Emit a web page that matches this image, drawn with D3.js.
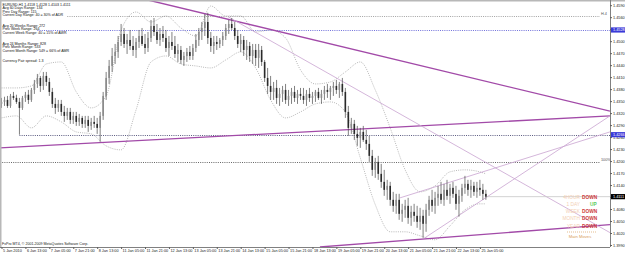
<!DOCTYPE html>
<html><head><meta charset="utf-8">
<script src="https://cdn.jsdelivr.net/npm/d3@7"></script>
<style>html,body{margin:0;padding:0;background:#fff;overflow:hidden}text{font-family:"Liberation Sans","DejaVu Sans",sans-serif}</style>
</head><body><svg id="c" width="625" height="253"></svg>
<script>
// ---------- DATA ----------
const timeLabels = ["5 Jan 2010","6 Jan 13:00","7 Jan 05:00","7 Jan 21:00","8 Jan 13:00","11 Jan 05:00","11 Jan 21:00","12 Jan 13:00","13 Jan 05:00","13 Jan 21:00","14 Jan 13:00","15 Jan 05:00","15 Jan 21:00","18 Jan 13:00","19 Jan 05:00","19 Jan 21:00","20 Jan 13:00","21 Jan 05:00","21 Jan 21:00","22 Jan 13:00","25 Jan 05:00"];
const timeLabelIdx = [0,8,16,24,32,40,48,56,64,72,80,88,96,104,112,120,128,136,144,152,160];

const opens = [1.4343,1.4348,1.4353,1.4338,1.4363,1.4358,1.4348,1.4333,1.4358,1.4366,
1.4353,1.4378,1.4393,1.4408,1.4388,1.4413,1.4398,1.4373,1.4343,1.4333,
1.4343,1.4323,1.4313,1.4323,1.4303,1.4313,1.4298,1.4308,1.4293,1.4303,
1.4288,1.4298,1.4293,1.4283,1.4313,1.4363,1.4408,1.4438,1.4463,1.4473,
1.4498,1.4518,1.4493,1.4503,1.4488,1.4478,1.4498,1.4513,1.4493,1.4483,
1.4508,1.4538,1.4523,1.4503,1.4518,1.4508,1.4483,1.4498,1.4488,1.4468,
1.4478,1.4453,1.4463,1.4473,1.4463,1.4483,1.4503,1.4523,1.4533,1.4548,
1.4508,1.4488,1.4498,1.4493,1.4503,1.4513,1.4533,1.4543,1.4533,1.4513,
1.4493,1.4503,1.4478,1.4488,1.4463,1.4478,1.4458,1.4478,1.4448,1.4408,
1.4388,1.4373,1.4383,1.4358,1.4368,1.4378,1.4353,1.4363,1.4373,1.4358,
1.4368,1.4363,1.4353,1.4368,1.4358,1.4363,1.4373,1.4358,1.4368,1.4378,
1.4373,1.4383,1.4388,1.4378,1.4393,1.4373,1.4323,1.4283,1.4293,1.4268,
1.4258,1.4273,1.4253,1.4243,1.4213,1.4178,1.4198,1.4168,1.4148,1.4128,
1.4138,1.4103,1.4088,1.4103,1.4068,1.4078,1.4088,1.4058,1.4073,1.4063,
1.4048,1.4063,1.4043,1.4078,1.4103,1.4088,1.4108,1.4118,1.4103,1.4128,
1.4113,1.4133,1.4118,1.4093,1.4113,1.4133,1.4143,1.4128,1.4138,1.4123,
1.4133,1.4128,1.4118];
const highs = [1.4358,1.4361,1.4363,1.4368,1.4373,1.4366,1.4358,1.4363,1.4373,1.4378,
1.4383,1.4403,1.4418,1.4413,1.4423,1.4423,1.4408,1.4383,1.4358,1.4353,
1.4353,1.4338,1.4333,1.4333,1.4323,1.4323,1.4318,1.4313,1.4313,1.4313,
1.4308,1.4313,1.4308,1.4323,1.4373,1.4423,1.4453,1.4483,1.4493,1.4513,
1.4543,1.4533,1.4518,1.4528,1.4513,1.4508,1.4528,1.4533,1.4518,1.4523,
1.4553,1.4558,1.4543,1.4533,1.4538,1.4528,1.4513,1.4523,1.4513,1.4493,
1.4488,1.4473,1.4483,1.4488,1.4493,1.4518,1.4533,1.4548,1.4568,1.4571,
1.4523,1.4513,1.4513,1.4508,1.4523,1.4543,1.4553,1.4558,1.4548,1.4528,
1.4518,1.4513,1.4503,1.4498,1.4493,1.4493,1.4493,1.4488,1.4453,1.4433,
1.4413,1.4398,1.4403,1.4383,1.4388,1.4393,1.4378,1.4383,1.4388,1.4378,
1.4383,1.4383,1.4378,1.4383,1.4373,1.4378,1.4383,1.4378,1.4388,1.4393,
1.4388,1.4398,1.4403,1.4398,1.4408,1.4383,1.4338,1.4308,1.4303,1.4288,
1.4283,1.4288,1.4278,1.4263,1.4228,1.4208,1.4213,1.4193,1.4178,1.4153,
1.4148,1.4123,1.4118,1.4118,1.4093,1.4103,1.4108,1.4088,1.4093,1.4088,
1.4083,1.4078,1.4093,1.4113,1.4128,1.4123,1.4138,1.4148,1.4143,1.4153,
1.4143,1.4148,1.4138,1.4128,1.4143,1.4163,1.4153,1.4153,1.4148,1.4148,
1.4153,1.4143,1.4128];
const lows = [1.4333,1.4338,1.4333,1.4333,1.4353,1.4343,1.4266,1.4328,1.4348,1.4343,
1.4348,1.4368,1.4383,1.4373,1.4378,1.4388,1.4363,1.4333,1.4318,1.4323,
1.4313,1.4298,1.4303,1.4293,1.4293,1.4288,1.4288,1.4283,1.4283,1.4273,
1.4278,1.4283,1.4268,1.4248,1.4303,1.4353,1.4393,1.4423,1.4443,1.4458,
1.4488,1.4483,1.4468,1.4478,1.4463,1.4458,1.4483,1.4488,1.4468,1.4473,
1.4498,1.4513,1.4493,1.4488,1.4498,1.4473,1.4463,1.4478,1.4458,1.4448,
1.4443,1.4438,1.4448,1.4453,1.4453,1.4473,1.4488,1.4503,1.4513,1.4493,
1.4473,1.4468,1.4478,1.4483,1.4488,1.4503,1.4518,1.4528,1.4503,1.4483,
1.4473,1.4463,1.4453,1.4448,1.4443,1.4438,1.4433,1.4438,1.4398,1.4368,
1.4353,1.4353,1.4343,1.4338,1.4348,1.4343,1.4338,1.4343,1.4348,1.4343,
1.4353,1.4343,1.4338,1.4348,1.4343,1.4348,1.4353,1.4343,1.4353,1.4358,
1.4353,1.4363,1.4368,1.4358,1.4363,1.4308,1.4263,1.4268,1.4253,1.4238,
1.4233,1.4248,1.4228,1.4198,1.4163,1.4158,1.4153,1.4133,1.4113,1.4103,
1.4088,1.4073,1.4068,1.4053,1.4048,1.4058,1.4043,1.4038,1.4048,1.4033,
1.4028,1.4008,1.4023,1.4063,1.4073,1.4068,1.4088,1.4093,1.4088,1.4103,
1.4093,1.4108,1.4078,1.4061,1.4098,1.4118,1.4113,1.4108,1.4113,1.4108,
1.4113,1.4103,1.4103];
const closes = [1.4348,1.4353,1.4338,1.4363,1.4358,1.4348,1.4333,1.4358,1.4366,1.4353,
1.4378,1.4393,1.4408,1.4388,1.4413,1.4398,1.4373,1.4343,1.4333,1.4343,
1.4323,1.4313,1.4323,1.4303,1.4313,1.4298,1.4308,1.4293,1.4303,1.4288,
1.4298,1.4293,1.4283,1.4313,1.4363,1.4408,1.4438,1.4463,1.4473,1.4498,
1.4518,1.4493,1.4503,1.4488,1.4478,1.4498,1.4513,1.4493,1.4483,1.4508,
1.4538,1.4523,1.4503,1.4518,1.4508,1.4483,1.4498,1.4488,1.4468,1.4478,
1.4453,1.4463,1.4473,1.4463,1.4483,1.4503,1.4523,1.4533,1.4548,1.4508,
1.4488,1.4498,1.4493,1.4503,1.4513,1.4533,1.4543,1.4533,1.4513,1.4493,
1.4503,1.4478,1.4488,1.4463,1.4478,1.4458,1.4478,1.4448,1.4408,1.4388,
1.4373,1.4383,1.4358,1.4368,1.4378,1.4353,1.4363,1.4373,1.4358,1.4368,
1.4363,1.4353,1.4368,1.4358,1.4363,1.4373,1.4358,1.4368,1.4378,1.4373,
1.4383,1.4388,1.4378,1.4393,1.4373,1.4323,1.4283,1.4293,1.4268,1.4258,
1.4273,1.4253,1.4243,1.4213,1.4178,1.4198,1.4168,1.4148,1.4128,1.4138,
1.4103,1.4088,1.4103,1.4068,1.4078,1.4088,1.4058,1.4073,1.4063,1.4048,
1.4063,1.4043,1.4078,1.4103,1.4088,1.4108,1.4118,1.4103,1.4128,1.4113,
1.4133,1.4118,1.4093,1.4113,1.4133,1.4143,1.4128,1.4138,1.4123,1.4133,
1.4128,1.4118,1.4111];

const bandIdx = [0,5,10,15,20,25,30,35,40,45,50,55,60,65,70,75,80,85,90,95,100,105,110,115,120,125,130,135,140,145,150,155,160,162];
const bandUpper = [1.4383,1.4383,1.4388,1.4443,1.4448,1.4373,1.4333,1.4363,1.4528,1.4573,1.4548,1.4563,1.4533,1.4513,1.4588,1.4563,1.4563,1.4523,1.4528,1.4508,1.4428,1.4393,1.4398,1.4423,1.4448,1.4378,1.4283,1.4178,1.4123,1.4138,1.4173,1.4178,1.4173,1.4168];
const bandLower = [1.4308,1.4313,1.4283,1.4313,1.4298,1.4273,1.4268,1.4238,1.4228,1.4328,1.4448,1.4463,1.4443,1.4438,1.4433,1.4453,1.4473,1.4433,1.4353,1.4308,1.4323,1.4343,1.4348,1.4323,1.4208,1.4091,1.4023,1.4023,1.4013,1.4003,1.4038,1.4078,1.4093,1.4093];

const priceTicks = [1.4590,1.4560,1.4530,1.4500,1.4470,1.4440,1.4410,1.4380,1.4350,1.4320,1.4290,1.4260,1.4230,1.4200,1.4170,1.4140,1.4110,1.4080,1.4050,1.4020,1.3990];

// trend lines: [startIdx, startPrice, endIdx, endPrice, thick?]
const trendStartIdx   = [49.0, -0.5, 106.5, 75.8, 133.3, 141.6];
const trendStartPrice = [1.4603, 1.4233, 1.3985, 1.4561, 1.4108, 1.4008];
const trendEndIdx     = [203.5, 203.5, 203.5, 203.5, 203.5, 203.5];
const trendEndPrice   = [1.4325, 1.4313, 1.4041, 1.4021, 1.4273, 1.4313];
const trendThick      = [true, true, true, false, false, false];

// horizontal levels
const levelPrice = [1.4563, 1.4528, 1.4266, 1.4198];
const levelStartIdx = [22, 12, 6, -1];
const levelColor = ["#8a8a8a", "#4a4ad0", "#303060", "#404040"];
const levelTag = ["H.4", "", "", "100%"];
const levelBox = [false, true, true, false];

const infoLines = ["EURUSD,H1  1.4118 1.4128 1.4103 1.4111","Avg 60 Days Range: 134","Prev Day Range: 115","Current Day Range: 40 = 30% of ADR","","","Avg 20 Weeks Range: 272","Prev Week Range: 264","Current Week Range: 40 = 15% of AWR","","","Avg 24 Months Range: 828","Prev Month Range: 533","Current Month Range: 549 = 66% of AMR","","","Currency Pair spread: 1.3"];

const trendNames = ["4HOUR","1 DAY","WEEK","MONTH","YEAR"];
const trendDirs = ["DOWN","UP","DOWN","DOWN","DOWN"];

// ---------- DRAW ----------
const W = 625, H = 253, plotR = 610, plotB = 247;
const svg = d3.select("#c");
const x = d3.scaleLinear().domain([0, 162]).range([1.5, 1.5 + 162 * 2.99]);
const y = d3.scaleLinear().domain([1.3985, 1.4603]).range([plotB, 0]);

svg.append("rect").attr("width", W).attr("height", H).attr("fill", "#fff");
svg.append("defs").append("clipPath").attr("id", "clip")
  .append("rect").attr("x", 0).attr("y", 0).attr("width", plotR).attr("height", plotB);
const g = svg.append("g").attr("clip-path", "url(#clip)");

// horizontal levels
levelPrice.forEach((p, i) => {
  g.append("line").attr("x1", Math.max(0, x(levelStartIdx[i]))).attr("x2", levelTag[i] ? 600 : plotR)
    .attr("y1", Math.round(y(p)) + 0.5).attr("y2", Math.round(y(p)) + 0.5)
    .attr("stroke", levelColor[i]).attr("stroke-width", 0.8).attr("stroke-dasharray", "1,1.2");
  if (levelTag[i]) {
    svg.append("text").attr("x", 601).attr("y", y(p) - 0.5).attr("font-size", 3.8)
      .attr("fill", "#555").text(levelTag[i]);
  }
});

// bollinger band
const bandLine = (arr) => d3.line().x((d, i) => x(bandIdx[i])).y(d => y(d)).curve(d3.curveMonotoneX)(arr);
[bandUpper, bandLower].forEach(arr => {
  g.append("path").attr("d", bandLine(arr)).attr("fill", "none")
    .attr("stroke", "#9a9a9a").attr("stroke-width", 0.7).attr("stroke-dasharray", "1,1.2");
});

// trend lines
trendStartIdx.forEach((s, i) => {
  g.append("line").attr("x1", x(s)).attr("y1", y(trendStartPrice[i]))
    .attr("x2", x(trendEndIdx[i])).attr("y2", y(trendEndPrice[i]))
    .attr("stroke", trendThick[i] ? "#a24aa8" : "#c9a3d0")
    .attr("stroke-width", trendThick[i] ? 1.3 : 0.8);
});

// bid line
g.append("line").attr("x1", x(162)).attr("x2", plotR)
  .attr("y1", y(closes[162])).attr("y2", y(closes[162])).attr("stroke", "#c8c8c8").attr("stroke-width", 0.8);

// candles
const idx = d3.range(opens.length);
g.selectAll("line.wick").data(idx).join("line").attr("class", "wick")
  .attr("x1", i => x(i)).attr("x2", i => x(i))
  .attr("y1", i => y(highs[i])).attr("y2", i => y(lows[i]))
  .attr("stroke", "#4a4a4a").attr("stroke-width", 0.7);
g.selectAll("rect.body").data(idx).join("rect").attr("class", "body")
  .attr("x", i => x(i) - 0.8).attr("width", 1.6)
  .attr("y", i => y(Math.max(opens[i], closes[i])))
  .attr("height", i => Math.max(0.6, Math.abs(y(opens[i]) - y(closes[i]))))
  .attr("fill", i => closes[i] >= opens[i] ? "#8a8a8a" : "#2a2a2a");

// frame
svg.append("rect").attr("x", 0).attr("y", 0).attr("width", W).attr("height", 1.5).attr("fill", "#b8b8b8");
svg.append("rect").attr("x", 0).attr("y", 0).attr("width", 1.5).attr("height", plotB).attr("fill", "#b8b8b8");

// axes
const yAxis = d3.axisRight(y).tickValues(priceTicks).tickSize(2).tickFormat(d3.format(".4f"));
const ya = svg.append("g").attr("transform", `translate(${plotR},0)`).call(yAxis);
ya.select(".domain").attr("stroke", "#808080").attr("d", `M0.5,0V${plotB}`);
ya.selectAll(".tick line").attr("stroke", "#606060");
ya.selectAll(".tick text").attr("font-size", 3.8).attr("x", 3).attr("fill", "#222").attr("font-family", "Liberation Sans, sans-serif");

const xAxis = d3.axisBottom(x).tickValues(timeLabelIdx).tickSize(2)
  .tickFormat((d, i) => timeLabels[i]);
const xa = svg.append("g").attr("transform", `translate(0,${plotB})`).call(xAxis);
xa.select(".domain").attr("stroke", "#808080").attr("d", `M0,0.5H${plotR}`);
xa.selectAll(".tick line").attr("stroke", "#606060");
xa.selectAll(".tick text").attr("font-size", 3.8).attr("text-anchor", "start").attr("x", 1).attr("y", 2.2)
  .attr("fill", "#222").attr("font-family", "Liberation Sans, sans-serif");

// price boxes
levelPrice.forEach((p, i) => {
  if (!levelBox[i]) return;
  svg.append("rect").attr("x", 611).attr("y", y(p) - 2.6).attr("width", 14).attr("height", 5.2).attr("fill", "#3a3ad8");
  svg.append("text").attr("x", 613).attr("y", y(p) + 1.4).attr("font-size", 3.8).attr("fill", "#fff").text(d3.format(".4f")(p));
});
svg.append("rect").attr("x", 611).attr("y", y(closes[162]) - 2.6).attr("width", 14).attr("height", 5.2).attr("fill", "#000");
svg.append("text").attr("x", 613).attr("y", y(closes[162]) + 1.4).attr("font-size", 3.8).attr("fill", "#fff").text(d3.format(".4f")(closes[162]));

// info text
infoLines.forEach((t, i) => {
  if (!t) return;
  svg.append("text").attr("x", 2.5).attr("y", 5.5 + i * 3.55).attr("font-size", 3.6).attr("fill", "#111").text(t);
});

// copyright
svg.append("text").attr("x", 2).attr("y", 244.5).attr("font-size", 3.6).attr("fill", "#222")
  .text("FxPro MT4, \u00a9 2001-2009 MetaQuotes Software Corp.");

// trend panel
trendNames.forEach((n, i) => {
  const ty = 198.5 + i * 7.3;
  svg.append("text").attr("x", 580).attr("y", ty).attr("text-anchor", "end").attr("font-size", 4.8)
    .attr("fill", "#f3cfb4").text(n);
  svg.append("text").attr("x", trendDirs[i] === "UP" ? 590 : 582).attr("y", ty).attr("font-size", 4.8).attr("font-weight", "bold")
    .attr("fill", trendDirs[i] === "UP" ? "#5ccc5c" : "#cc3a3a").text(trendDirs[i]);
});
svg.append("line").attr("x1", 567).attr("x2", 597).attr("y1", 232).attr("y2", 232)
  .attr("stroke", "#d9a060").attr("stroke-width", 0.7).attr("stroke-dasharray", "1,1");
svg.append("text").attr("x", 580).attr("y", 237.5).attr("text-anchor", "middle").attr("font-size", 4.2)
  .attr("fill", "#d9a060").text("Main Moves");
</script></body></html>
